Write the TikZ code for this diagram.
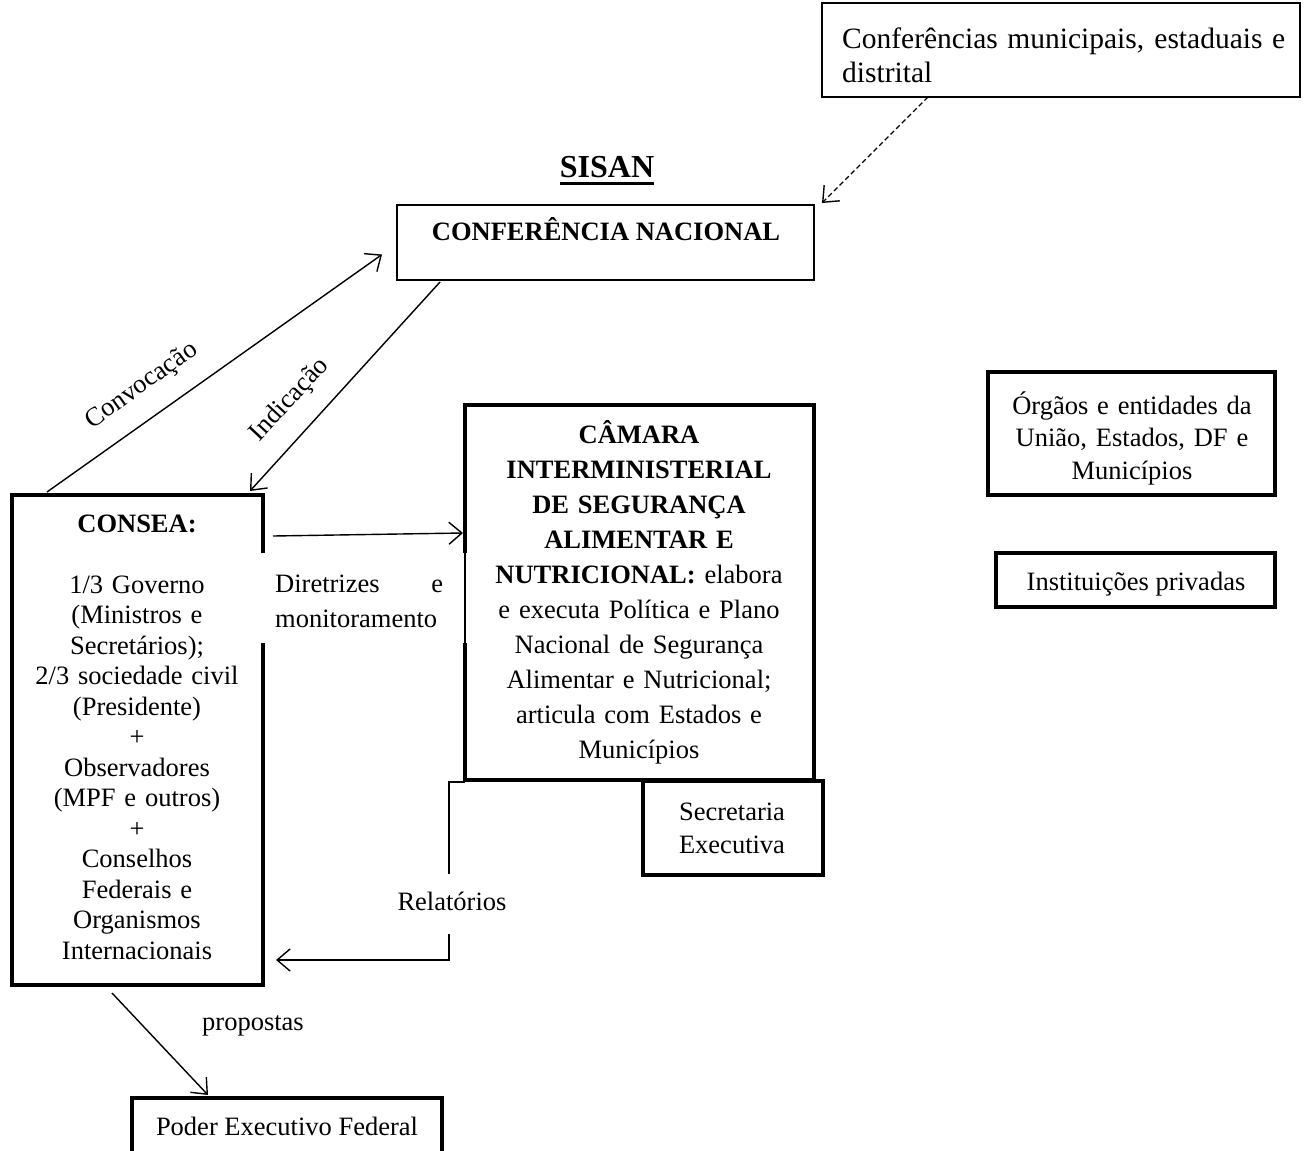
\documentclass[tikz,border=0pt]{standalone}
\usepackage{fontspec}
\setmainfont{Liberation Serif}
\usetikzlibrary{arrows.meta}
\begin{document}
\begin{tikzpicture}[x=1pt,y=-1pt,
  thinbox/.style={draw, line width=1.3pt, inner sep=0pt, outer sep=0pt, anchor=north west},
  thickbox/.style={draw, line width=3.8pt, inner sep=0pt, outer sep=0pt, anchor=north west},
  txt/.style={inner sep=0pt, anchor=base, align=center, font=\fontsize{26.5}{31}\selectfont},
  conn/.style={line width=1.4pt},
  arr/.style={conn, -{Straight Barb[length=13pt,width=22pt,line width=1.4pt]}},
  cover/.style={fill=white, draw=none, inner sep=0pt, outer sep=0pt, anchor=north west}
]
\useasboundingbox (0,0) rectangle (1309,1151);

% boxes
\node[thinbox, minimum width=478pt, minimum height=94pt] (top) at (822,3) {};
\node[thinbox, minimum width=417pt, minimum height=75pt] (conf) at (397,205) {};
\node[thickbox, minimum width=251pt, minimum height=490pt] (consea) at (12,495) {};
\node[thickbox, minimum width=349pt, minimum height=375pt] (camara) at (465,405) {};
\node[thickbox, minimum width=180pt, minimum height=94pt] (secr) at (643,781) {};
\node[thickbox, minimum width=287pt, minimum height=123pt] (orgaos) at (988,372) {};
\node[thickbox, minimum width=279pt, minimum height=54pt] (inst) at (996,553) {};
\node[thickbox, minimum width=310pt, minimum height=58pt] (poder) at (132,1098) {};

% texts
\node[txt, anchor=base west, align=justify, text width=443pt, font=\fontsize{29.5}{34}\selectfont] (toptxt) at (842,48)
  {Conferências municipais, estaduais e distrital};
\node[txt, font=\bfseries\fontsize{32}{36}\selectfont] (sisan) at (607,177) {SISAN};
\draw[line width=2.6pt] ([yshift=-6.5pt]sisan.base west) -- ([yshift=-6.5pt]sisan.base east);
\node[txt, font=\bfseries\fontsize{26.5}{31}\selectfont] (conftxt) at (606,240) {CONFERÊNCIA NACIONAL};

\node[txt, text width=245pt, font=\fontsize{26.5}{30.5}\selectfont] (conseatxt) at (137,532)
  {\textbf{CONSEA:}\\\mbox{}\\1/3 Governo\\(Ministros e\\Secretários);\\2/3 sociedade civil\\(Presidente)\\+\\Observadores\\(MPF e outros)\\+\\Conselhos\\Federais e\\Organismos\\Internacionais};

\node[txt, text width=345pt, font=\fontsize{26.5}{35.1}\selectfont] (camaratxt) at (639,443)
  {\textbf{CÂMARA}\\\textbf{INTERMINISTERIAL}\\\textbf{DE SEGURANÇA}\\\textbf{ALIMENTAR E}\\\textbf{NUTRICIONAL:} elabora\\e executa Política e Plano\\Nacional de Segurança\\Alimentar e Nutricional;\\articula com Estados e\\Municípios};

\node[txt, text width=175pt, font=\fontsize{26.5}{33}\selectfont] (secrtxt) at (732,820) {Secretaria\\Executiva};
\node[txt, text width=285pt, font=\fontsize{26.5}{32.5}\selectfont] (orgaostxt) at (1132,414) {Órgãos e entidades da\\União, Estados, DF e\\Municípios};
\node[txt] (insttxt) at (1136,590) {Instituições privadas};
\node[txt] (podertxt) at (287,1135) {Poder Executivo Federal};

% connectors
\draw[arr, dash pattern=on 5pt off 3pt, line width=1.2pt] ([xshift=-133pt]top.south) -- ([shift={(8pt,2pt)}]conf.north east);
\draw[arr] ([shift={(35pt,3pt)}]consea.north west) -- ([shift={(-15pt,-12pt)}]conf.west);
\node[txt, rotate=35.5, anchor=center] (convoc) at (142,386) {Convocação};
\draw[arr] ([shift={(43pt,-2pt)}]conf.south west) -- ([shift={(-13pt,4pt)}]consea.north east);
\node[txt, rotate=47, anchor=center] (indic) at (290,400) {Indicação};
\draw[arr] ([shift={(10pt,-41pt)}]consea.north east) -- ([shift={(-2pt,-128pt)}]camara.north west);

% Diretrizes label covering the borders
\node[cover, minimum width=206pt, minimum height=90pt] (dircover) at (261,553) {};
\draw[line width=1.4pt] (dircover.north east) ++(-2pt,0) -- ++(0,-90pt);
\node[txt, anchor=base west, align=left, text width=168pt, font=\fontsize{26.5}{35}\selectfont] (dir) at (275,592)
  {Diretrizes\hfill e\\monitoramento};

% Relatorios
\draw[arr] ([yshift=-2pt]camara.south west) -- ++(-16pt,0) |- ([shift={(13pt,-220pt)}]consea.east);
\node[txt, fill=white, text height=19pt, text depth=6pt, inner ysep=17.5pt, inner xsep=4pt] (rel) at (452,910) {Relatórios};

% propostas
\draw[arr] ([shift={(100pt,-8pt)}]consea.south west) -- ([shift={(76pt,3pt)}]poder.north west);
\node[txt] (prop) at (253,1030) {propostas};
\end{tikzpicture}
\end{document}
